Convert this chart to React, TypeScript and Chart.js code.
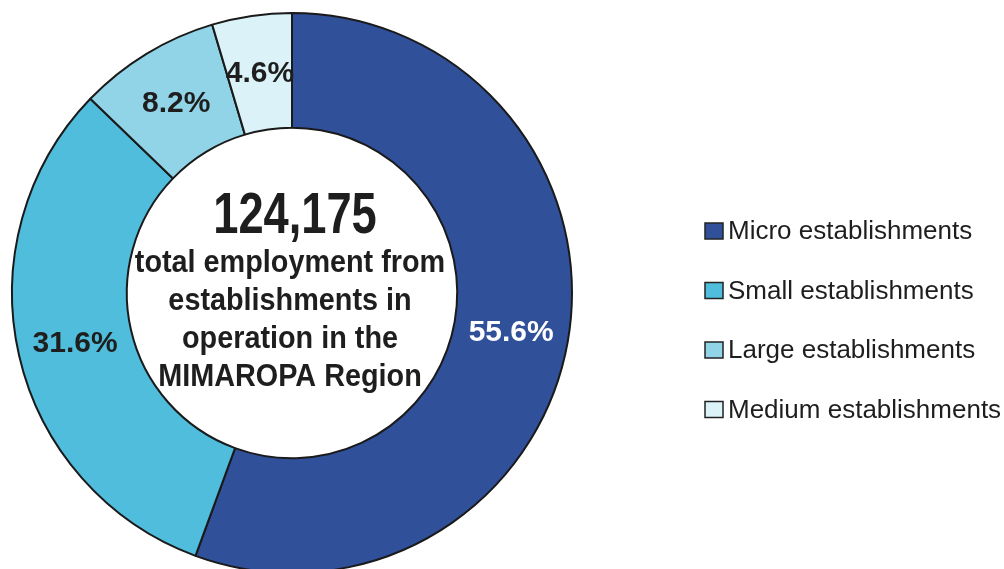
import React, { useEffect, useRef } from "react";
import { Chart, registerables } from "chart.js";

Chart.register(...registerables);

const categories = [
  "Micro establishments",
  "Small establishments",
  "Large establishments",
  "Medium establishments",
];
const shares = [55.6, 31.6, 8.2, 4.6];
const sliceColors = ["#30509a", "#4fbddb", "#92d4e7", "#daf2f8"];
const labelColors = ["#ffffff", "#1e1e1e", "#1e1e1e", "#1e1e1e"];
const totalEmployment = "124,175";
const centerLines = [
  "total employment from",
  "establishments in",
  "operation in the",
  "MIMAROPA Region",
];

const FONT = '"Liberation Sans", Arial, sans-serif';

const sliceLabelPlugin = {
  id: "sliceLabels",
  afterDatasetsDraw(chart: any) {
    const ctx = chart.ctx;
    const meta = chart.getDatasetMeta(0);
    ctx.save();
    ctx.font = `bold 30px ${FONT}`;
    ctx.textAlign = "center";
    ctx.textBaseline = "middle";
    meta.data.forEach((arc: any, i: number) => {
      const p = arc.tooltipPosition(false);
      ctx.fillStyle = labelColors[i];
      ctx.fillText(shares[i].toFixed(1) + "%", p.x, p.y + 1);
    });
    ctx.restore();
  },
};

const centerTextPlugin = {
  id: "centerText",
  afterDatasetsDraw(chart: any) {
    const ctx = chart.ctx;
    const meta = chart.getDatasetMeta(0);
    const arc = meta.data[0];
    if (!arc) return;
    const cx = arc.x;
    const cy = arc.y;
    ctx.save();
    ctx.fillStyle = "#1e1e1e";
    ctx.textAlign = "center";
    ctx.textBaseline = "alphabetic";
    ctx.save();
    ctx.translate(cx + 3, cy - 60);
    ctx.scale(0.78, 1);
    ctx.font = `bold 58px ${FONT}`;
    ctx.fillText(totalEmployment, 0, 0);
    ctx.restore();
    const baselines = [-21, 17, 55, 93];
    centerLines.forEach((line, i) => {
      ctx.save();
      ctx.translate(cx - 2, cy + baselines[i]);
      ctx.scale(0.9, 1);
      ctx.font = `bold 32px ${FONT}`;
      ctx.fillText(line, 0, 0);
      ctx.restore();
    });
    ctx.restore();
  },
};

const legendPlugin = {
  id: "customLegend",
  afterDraw(chart: any) {
    const ctx = chart.ctx;
    const x0 = 705;
    const y0 = 231;
    const step = 59.5;
    ctx.save();
    ctx.font = `26px ${FONT}`;
    ctx.textAlign = "left";
    ctx.textBaseline = "middle";
    chart.data.labels.forEach((lab: string, i: number) => {
      const y = y0 + i * step;
      ctx.fillStyle = sliceColors[i];
      ctx.fillRect(x0, y - 8, 18, 16);
      ctx.strokeStyle = "#222";
      ctx.lineWidth = 1.5;
      ctx.strokeRect(x0, y - 8, 18, 16);
      ctx.fillStyle = "#1e1e1e";
      ctx.fillText(lab, x0 + 23, y + 1);
    });
    ctx.restore();
  },
};

export default function App() {
  const ref = useRef<HTMLCanvasElement | null>(null);
  useEffect(() => {
    document.body.style.margin = "0";
    if (!ref.current) return;
    const chart = new Chart(ref.current, {
      type: "doughnut",
      data: {
        labels: categories,
        datasets: [
          {
            data: shares,
            backgroundColor: sliceColors,
            borderColor: "#1a1a1a",
            borderWidth: 2,
            hoverOffset: 0,
          },
        ],
      },
      options: {
        animation: false,
        responsive: true,
        maintainAspectRatio: false,
        cutout: "59%",
        layout: { padding: { left: 11, top: 12, right: 431, bottom: 26 } },
        plugins: {
          legend: { display: false },
          tooltip: { enabled: false },
        },
      },
      plugins: [sliceLabelPlugin, centerTextPlugin, legendPlugin],
    });
    return () => chart.destroy();
  }, []);
  return (
    <div
      style={{
        position: "absolute",
        left: 0,
        top: 0,
        width: 1004,
        height: 569,
        overflow: "hidden",
        background: "#fff",
      }}
    >
      <div style={{ position: "relative", width: 1004, height: 600 }}>
        <canvas ref={ref} />
      </div>
    </div>
  );
}
